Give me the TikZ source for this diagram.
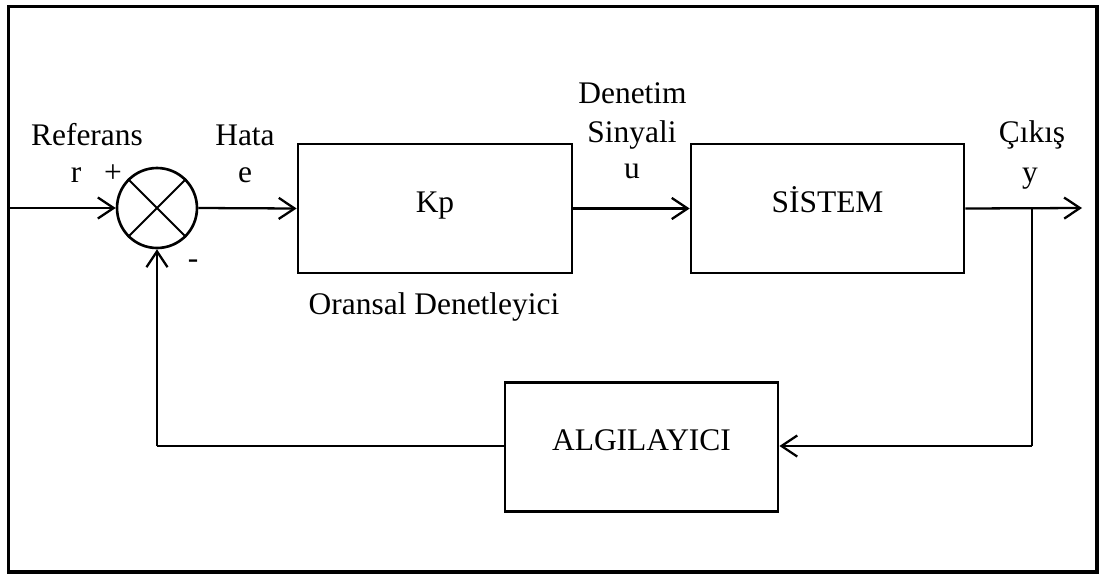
\documentclass[tikz,border=0pt]{standalone}
\usepackage{fontspec}
\setmainfont{Liberation Serif}
\usetikzlibrary{arrows.meta}
\begin{document}
\begin{tikzpicture}[x=0.02cm,y=-0.02cm,
  font=\fontsize{17.9pt}{21pt}\selectfont,
  blockbox/.style={draw,line width=1.6pt,minimum height=2.58cm,inner sep=0pt,text height=0.14cm,text depth=0pt},
  sumnode/.style={draw,circle,line width=1.5pt,minimum size=1.6cm,inner sep=0pt},
  conn/.style={line width=1.3pt},
  arr/.style={conn,-{Straight Barb[length=9pt,width=12pt,line width=1.3pt]}},
  lbl/.style={anchor=base,inner sep=0pt}]
\useasboundingbox (0,0) rectangle (1101,575);
\draw[line width=2pt] (8.5,6.5) rectangle (1097,572);
% blocks
\node[sumnode] (sum) at (157,208) {};
\draw[line width=1.2pt] (sum.north west) -- (sum.south east) (sum.north east) -- (sum.south west);
\node[blockbox,minimum width=5.48cm] (kp) at (435,208.5) {Kp};
\node[blockbox,minimum width=5.46cm] (sys) at (827.5,208.5) {SİSTEM};
\node[blockbox,minimum width=5.46cm] (alg) at (641.5,447) {ALGILAYICI};
% coordinates
\coordinate (in) at (8.5,208);
\coordinate (out) at (1082,208);
\coordinate (br) at (1032,208);
\coordinate (brd) at (1032,446);
\coordinate (fbl) at (157,446);
% connectors
\draw[arr] (in) -- (sum.west);
\draw[arr] (sum.east) -- (kp.west);
\draw[arr] (kp.east) -- (sys.west);
\draw[arr] (sys.east) -- (out);
\draw[conn] (br) -- (brd);
\draw[arr] (brd) -- (alg.east |- brd);
\draw[conn] (alg.west |- fbl) -- (fbl);
\draw[arr] (fbl) -- (sum.south);
% labels
\node[lbl] (l1) at (87,145) {Referans};
\node[lbl] (l2) at (76,182) {r};
\node[lbl] (l3) at (113,182) {+};
\node[lbl] (l4) at (245,145) {Hata};
\node[lbl] (l5) at (245,182) {e};
\node[lbl] (l6) at (193,268) {-};
\node[lbl] (l7) at (632.5,103) {Denetim};
\node[lbl] (l8) at (632,142) {Sinyali};
\node[lbl] (l9) at (632,178) {u};
\node[lbl] (l10) at (1032,142) {Çıkış};
\node[lbl] (l11) at (1030,182) {y};
\node[lbl] (l12) at (434,314) {Oransal Denetleyici};
\end{tikzpicture}
\end{document}
